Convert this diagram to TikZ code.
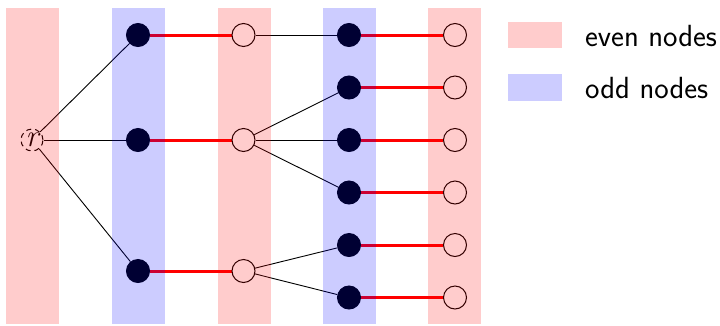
\documentclass[tikz,border=0pt]{standalone}
\usepackage{fontspec}
\usetikzlibrary{backgrounds}
\begin{document}
\begin{tikzpicture}[x=1pt,y=-1pt,
  oddnode/.style={circle,fill=black,draw=black,line width=1pt,minimum size=23pt,inner sep=0pt},
  evennode/.style={circle,fill=white,draw=black,line width=1pt,minimum size=23pt,inner sep=0pt},
  rootnode/.style={circle,draw=black,dash pattern=on 5pt off 4pt,line width=1pt,minimum size=22pt,inner sep=0pt,font=\itshape\fontsize{31}{36}\selectfont},
  matchedge/.style={draw=red,line width=3pt},
  treeedge/.style={draw=black,line width=0.9pt},
  evencol/.style={fill=red,fill opacity=0.2},
  oddcol/.style={fill=blue,fill opacity=0.2},
  legtext/.style={anchor=base west,font=\sffamily\fontsize{30.6}{36}\selectfont,inner sep=0pt}]
\useasboundingbox (0,0) rectangle (720,325);
% nodes
\node[rootnode] (r) at (32,140) {r};
\node[oddnode] (a1) at (138,35) {};
\node[oddnode] (a2) at (138,140) {};
\node[oddnode] (a3) at (138,271) {};
\node[evennode] (b1) at (243.5,35) {};
\node[evennode] (b2) at (243.5,140) {};
\node[evennode] (b3) at (243.5,271) {};
\foreach \i/\y in {1/35,2/87.5,3/140,4/192.5,5/245,6/297.5}{
  \node[oddnode] (c\i) at (349,\y) {};
  \node[evennode] (d\i) at (455,\y) {};
}
% edges
\begin{scope}[on background layer]
\draw[treeedge] (r) -- (a1);
\draw[treeedge] (r) -- (a2);
\draw[treeedge] (r) -- (a3);
\draw[matchedge] (a1) -- (b1);
\draw[matchedge] (a2) -- (b2);
\draw[matchedge] (a3) -- (b3);
\draw[treeedge] (b1) -- (c1);
\draw[treeedge] (b2) -- (c2);
\draw[treeedge] (b2) -- (c3);
\draw[treeedge] (b2) -- (c4);
\draw[treeedge] (b3) -- (c5);
\draw[treeedge] (b3) -- (c6);
\foreach \i in {1,...,6}{\draw[matchedge] (c\i) -- (d\i);}
\end{scope}
% column overlays
\fill[evencol] (6,8) rectangle (59,324);
\fill[oddcol] (112,8) rectangle (165,324);
\fill[evencol] (218,8) rectangle (271,324);
\fill[oddcol] (323,8) rectangle (376,324);
\fill[evencol] (428,8) rectangle (481,324);
% legend
\fill[red!20] (508,22) rectangle (562,48);
\fill[blue!20] (508,74) rectangle (562,101);
\node[legtext] (le) at (585,46) {even nodes};
\node[legtext] (lo) at (585,98) {odd nodes};
\end{tikzpicture}
\end{document}
